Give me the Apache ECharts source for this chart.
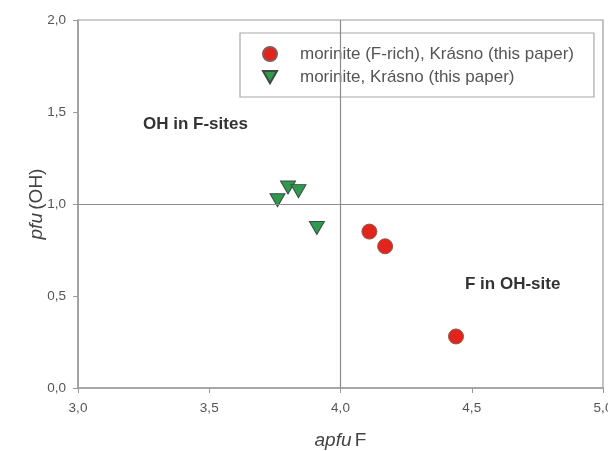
<!DOCTYPE html>
<html>
<head>
<meta charset="utf-8">
<script src="https://cdn.jsdelivr.net/npm/echarts@6/dist/echarts.min.js"></script>
<style>
  html, body { margin: 0; padding: 0; background: #fff; overflow: hidden; }
  #chart { width: 608px; height: 451px; }
</style>
</head>
<body>
<div id="chart"></div>
<script>
// Morinite compositions: F (apfu) vs OH (pfu)
const seriesNames = ['morinite (F-rich), Krásno (this paper)', 'morinite, Krásno (this paper)'];
const fRichF  = [4.11, 4.17, 4.44];
const fRichOH = [0.85, 0.77, 0.28];
const morF    = [3.80, 3.84, 3.76, 3.91];
const morOH   = [1.09, 1.07, 1.02, 0.87];
const xTicks = [3.0, 3.5, 4.0, 4.5, 5.0];
const yTicks = [0.0, 0.5, 1.0, 1.5, 2.0];
const fieldLabels = ['OH in F-sites', 'F in OH-site'];

const pairs = (xs, ys) => xs.map((x, i) => [x, ys[i]]);
const commaFmt = v => v.toFixed(1).replace('.', ',');
const downTriangle = 'path://M0,0 L12,0 L6,10.5 Z';
const font = 'Liberation Sans, Arial, sans-serif';
const nameRich = {
  i: { fontStyle: 'italic', fontSize: 19, color: '#444', fontFamily: font },
  n: { fontSize: 19, color: '#444', fontFamily: font }
};

const chart = echarts.init(document.getElementById('chart'), null, { renderer: 'canvas', width: 608, height: 451 });
chart.setOption({
  animation: false,
  backgroundColor: '#ffffff',
  grid: {
    left: 78, right: 5, top: 20, bottom: 63,
    containLabel: false, outerBoundsMode: 'none',
    show: true, borderColor: '#9a9a9a', borderWidth: 1.2, backgroundColor: '#ffffff'
  },
  xAxis: {
    type: 'value', min: xTicks[0], max: xTicks[xTicks.length - 1], interval: 0.5,
    name: '{i|apfu} {n|F}', nameLocation: 'middle', nameGap: 43, nameMoveOverlap: false,
    nameTextStyle: { rich: nameRich },
    axisLine: { lineStyle: { color: '#9a9a9a', width: 1.5 } },
    axisTick: { show: true, length: 5, lineStyle: { color: '#9a9a9a' } },
    axisLabel: { formatter: commaFmt, color: '#555', fontSize: 13.5, margin: 13, fontFamily: font },
    splitLine: { show: false }
  },
  yAxis: {
    type: 'value', min: yTicks[0], max: yTicks[yTicks.length - 1], interval: 0.5,
    name: '{i|pfu} {n|(OH)}', nameLocation: 'middle', nameGap: 32, nameRotate: 90, nameMoveOverlap: false,
    nameTextStyle: { rich: nameRich },
    axisLine: { lineStyle: { color: '#9a9a9a', width: 1.5 } },
    axisTick: { show: true, length: 5, lineStyle: { color: '#9a9a9a' } },
    axisLabel: { formatter: commaFmt, color: '#555', fontSize: 13.5, margin: 12, fontFamily: font },
    splitLine: { show: false }
  },
  legend: {
    orient: 'vertical', left: 240, top: 33,
    padding: [12, 20, 11, 22],
    itemGap: 5, itemWidth: 14, itemHeight: 14,
    borderColor: '#a8a8a8', borderWidth: 1.2, backgroundColor: '#fff',
    textStyle: { fontSize: 17, lineHeight: 18, color: '#555', fontFamily: font, padding: [0, 0, 0, 18] },
    data: [
      { name: seriesNames[0], icon: 'circle' },
      { name: seriesNames[1], icon: downTriangle }
    ]
  },
  graphic: [
    { type: 'text', left: 143, top: 116,
      style: { text: fieldLabels[0], font: 'bold 17px ' + font, fill: '#333' } },
    { type: 'text', left: 465, top: 276,
      style: { text: fieldLabels[1], font: 'bold 17px ' + font, fill: '#333' } }
  ],
  series: [
    {
      name: 'guides', type: 'scatter', data: [], silent: true,
      markLine: {
        silent: true, symbol: 'none', label: { show: false },
        lineStyle: { color: '#8c8c8c', width: 1.2, type: 'solid' },
        data: [{ xAxis: 4.0 }, { yAxis: 1.0 }]
      }
    },
    {
      name: seriesNames[0], type: 'scatter', symbol: 'circle', symbolSize: 15,
      itemStyle: { color: '#e3241d', borderColor: '#8a5a50', borderWidth: 1, opacity: 1 },
      data: pairs(fRichF, fRichOH)
    },
    {
      name: seriesNames[1], type: 'scatter', symbol: downTriangle, symbolSize: [15, 13],
      itemStyle: { color: '#2f9a4f', borderColor: '#3d4a40', borderWidth: 1, opacity: 1 },
      data: pairs(morF, morOH)
    }
  ]
});
</script>
</body>
</html>
